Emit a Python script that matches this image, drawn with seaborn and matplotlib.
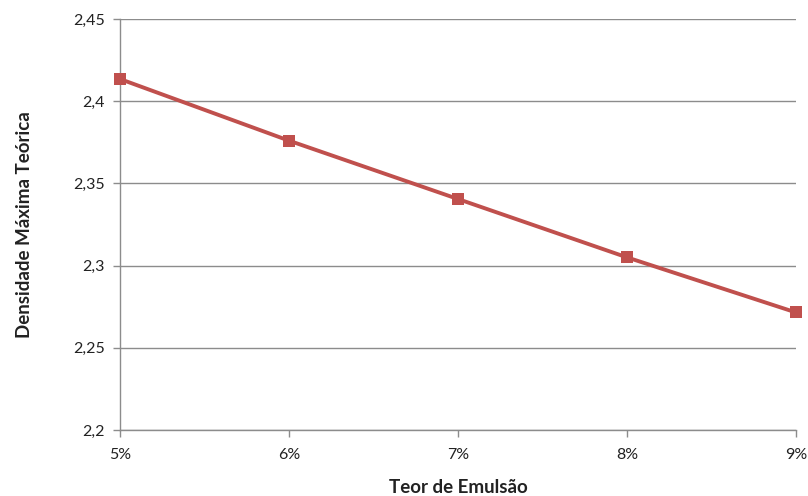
import pandas as pd
import seaborn as sns
import matplotlib.pyplot as plt
from matplotlib.ticker import FuncFormatter

# Values
teor = [5, 6, 7, 8, 9]
densidade = [2.4135, 2.376, 2.3405, 2.305, 2.2715]
y_ticks = [2.2, 2.25, 2.3, 2.35, 2.4, 2.45]

df = pd.DataFrame({"Teor": teor, "Densidade": densidade})

sns.set_style("white")
plt.rcParams['font.family'] = ['Lato', 'DejaVu Sans']

fig = plt.figure(figsize=(8.08, 4.96), dpi=100)
ax = fig.add_axes([0.1485, 0.1331, 0.8366, 0.8286])

sns.lineplot(data=df, x="Teor", y="Densidade", ax=ax, color="#C0504D",
             linewidth=2.8, marker="s", markersize=9, markeredgewidth=0,
             clip_on=False, zorder=3)

ax.set_xlim(5, 9)
ax.set_ylim(2.2, 2.45)
ax.set_xticks(teor)
ax.set_yticks(y_ticks)
ax.xaxis.set_major_formatter(FuncFormatter(lambda v, p: f"{v:.0f}%"))
ax.yaxis.set_major_formatter(FuncFormatter(lambda v, p: f"{v:g}".replace(".", ",")))

ax.grid(axis="y", color="#8c8c8c", linewidth=1)
ax.grid(axis="x", visible=False)
for side in ["top", "right"]:
    ax.spines[side].set_visible(False)
for side in ["left", "bottom"]:
    ax.spines[side].set_color("#8c8c8c")
    ax.spines[side].set_linewidth(1)

ax.tick_params(axis="both", direction="out", length=5, width=1, color="#8c8c8c",
               labelsize=11.5, labelcolor="#222222", bottom=True, left=True)
ax.tick_params(axis="x", pad=8)
ax.tick_params(axis="y", pad=6)

ax.set_xlabel("Teor de Emulsão", fontsize=13.5, fontweight="bold", color="#222222", labelpad=12)
ax.set_ylabel("Densidade Máxima Teórica", fontsize=13.5, fontweight="bold", color="#222222", labelpad=29)

plt.savefig("out.png", dpi=100)
